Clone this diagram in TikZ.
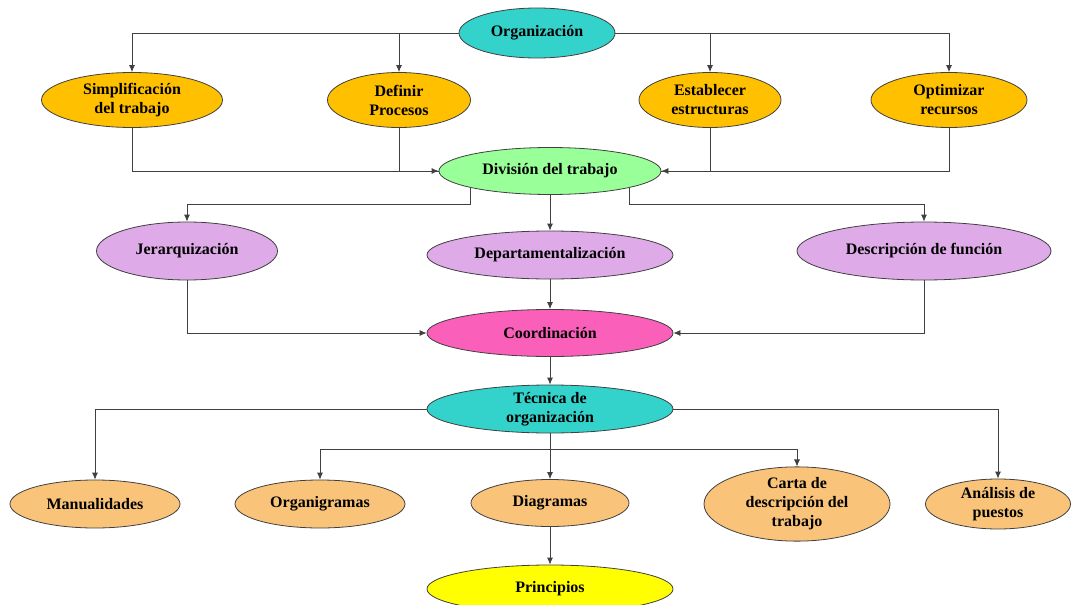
\documentclass[tikz,border=0pt]{standalone}
\usepackage{fontspec}
\setmainfont{Liberation Serif}
\usetikzlibrary{shapes.geometric,arrows.meta}

\definecolor{turq}{RGB}{51,211,204}
\definecolor{gold}{RGB}{255,192,0}
\definecolor{mint}{RGB}{153,255,153}
\definecolor{lila}{RGB}{222,170,232}
\definecolor{rosa}{RGB}{250,95,185}
\definecolor{melon}{RGB}{249,195,122}
\definecolor{amar}{RGB}{255,255,0}

\begin{document}
\begin{tikzpicture}[x=1pt,y=-1pt,
  elip/.style={ellipse,draw=black!75,line width=0.8pt,inner sep=0pt,align=center,
    font=\fontsize{16}{19}\selectfont\bfseries},
  conn/.style={draw=black!75,line width=0.8pt,-{Latex[length=7pt,width=6pt]}},
  link/.style={draw=black!75,line width=0.8pt}]
\useasboundingbox (0,0) rectangle (1072,605);
\clip (0,0) rectangle (1072,605);

% nodos
\node[elip,fill=turq,minimum width=156pt,minimum height=50pt] (org) at (537,33) {Organización};
\node[elip,fill=gold,minimum width=181pt,minimum height=55pt] (simp) at (132,100) {Simplificación\\del trabajo};
\node[elip,fill=gold,minimum width=143pt,minimum height=55pt] (def) at (399,100) {Definir\\Procesos};
\node[elip,fill=gold,minimum width=142pt,minimum height=55pt] (est) at (710,100) {Establecer\\estructuras};
\node[elip,fill=gold,minimum width=156pt,minimum height=55pt] (opt) at (949,100) {Optimizar\\recursos};
\node[elip,fill=mint,minimum width=222pt,minimum height=47pt] (div) at (550,171) {División del trabajo};
\node[elip,fill=lila,minimum width=181pt,minimum height=58pt] (jer) at (187,251) {Jerarquización};
\node[elip,fill=lila,minimum width=246pt,minimum height=48pt] (dep) at (550,255) {Departamentalización};
\node[elip,fill=lila,minimum width=254pt,minimum height=58pt] (desc) at (924,251) {Descripción de función};
\node[elip,fill=rosa,minimum width=246pt,minimum height=47pt] (coo) at (550,333) {Coordinación};
\node[elip,fill=turq,minimum width=246pt,minimum height=48pt] (tec) at (550,409) {Técnica de\\organización};
\node[elip,fill=melon,minimum width=170pt,minimum height=48pt] (man) at (95,504) {Manualidades};
\node[elip,fill=melon,minimum width=170pt,minimum height=48pt] (orgr) at (320,504) {Organigramas};
\node[elip,fill=melon,minimum width=158pt,minimum height=47pt] (dia) at (550,503) {Diagramas};
\node[elip,fill=melon,minimum width=186pt,minimum height=73pt] (carta) at (797,504) {Carta de\\descripción del\\trabajo};
\node[elip,fill=melon,minimum width=145pt,minimum height=50pt] (ana) at (998,504) {Análisis de\\puestos};
\node[elip,fill=amar,minimum width=246pt,minimum height=48pt] (pri) at (550,589) {Principios};

% conectores
\draw[conn] (org.west) -| (simp.north);
\draw[conn] (org.west) -| (def.north);
\draw[conn] (org.east) -| (est.north);
\draw[conn] (org.east) -| (opt.north);
\draw[conn] (simp.south) |- (div.west);
\draw[link] (def.south) |- (div.west);
\draw[conn] (opt.south) |- (div.east);
\draw[link] (est.south) |- (div.east);
\draw[conn] (div.192) |- ([yshift=17pt]jer.north) -- (jer.north);
\draw[conn] (div.-12) |- ([yshift=17pt]desc.north) -- (desc.north);
\draw[conn] (div.south) -- (dep.north);
\draw[conn] (jer.south) |- (coo.west);
\draw[conn] (desc.south) |- (coo.east);
\draw[conn] (dep.south) -- (coo.north);
\draw[conn] (coo.south) -- (tec.north);
\draw[conn] (tec.west) -| (man.north);
\draw[conn] (tec.east) -| (ana.north);
\draw[conn] (tec.south) -- (dia.north);
\draw[conn] ([yshift=-16pt]tec.south) -| (orgr.north);
\draw[conn] ([yshift=-16pt]tec.south) -| (carta.north);
\draw[conn] (dia.south) -- (pri.north);
\end{tikzpicture}
\end{document}
